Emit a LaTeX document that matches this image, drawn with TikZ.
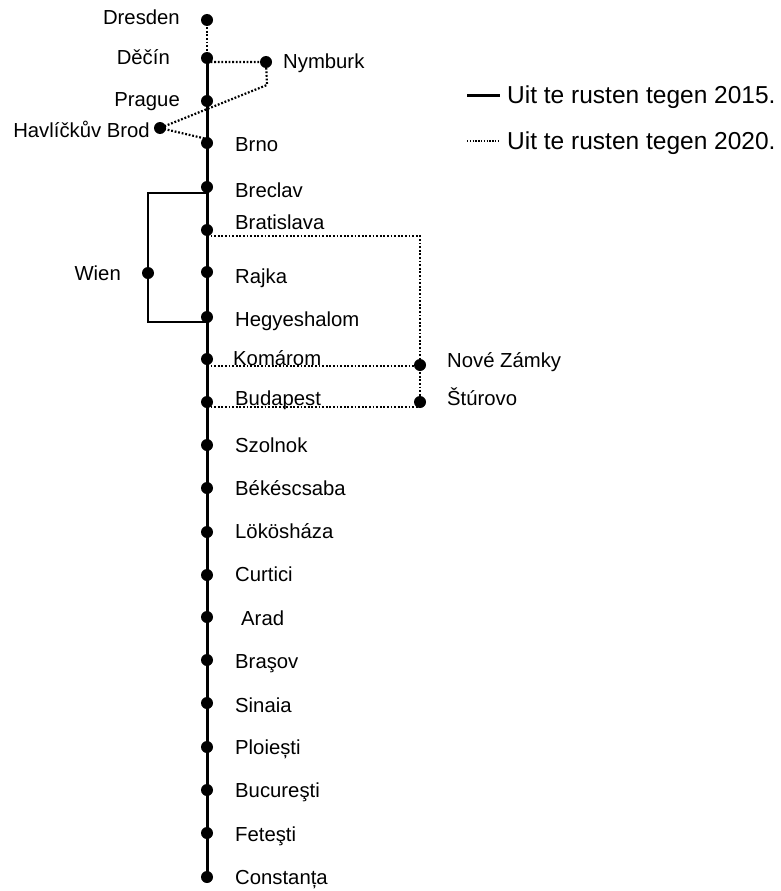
\documentclass[tikz,border=0pt]{standalone}
\usepackage{fontspec}
\setmainfont{Liberation Sans}
\begin{document}
\begin{tikzpicture}[x=1pt,y=-1pt,
  dot/.style={circle,fill=black,inner sep=0pt,minimum size=12pt},
  lbl/.style={inner sep=0pt,font=\fontsize{20.3}{24}\selectfont},
  leg/.style={inner sep=0pt,font=\fontsize{24.5}{28}\selectfont},
  solidline/.style={line width=3pt},
  dotline/.style={line width=2.2pt,dash pattern=on 1.8pt off 1.8pt},
  legdot/.style={line width=1.8pt,dash pattern=on 1.4pt off 1.4pt}]
\useasboundingbox (0,0) rectangle (780,891);
% positions
\coordinate (dre) at (207,20);
\coordinate (dec) at (207,58);
\coordinate (pra) at (207,101);
\coordinate (brn) at (207,143);
\coordinate (brc) at (207,187);
\coordinate (bra) at (207,230);
\coordinate (raj) at (207,272);
\coordinate (heg) at (207,317);
\coordinate (kom) at (207,359);
\coordinate (bud) at (207,402);
\coordinate (szo) at (207,445);
\coordinate (bek) at (207,488);
\coordinate (lok) at (207,532);
\coordinate (cur) at (207,575);
\coordinate (ara) at (207,617);
\coordinate (brs) at (207,660);
\coordinate (sin) at (207,703);
\coordinate (plo) at (207,747);
\coordinate (buc) at (207,790);
\coordinate (fet) at (207,833);
\coordinate (con) at (207,877);
\coordinate (nym) at (266,62);
\coordinate (hav) at (160,128);
\coordinate (wie) at (148,273);
\coordinate (nov) at (420,365);
\coordinate (stu) at (420,402);
% bend points
\coordinate (decr) at (207,62);
\coordinate (nymb) at (267,85);
\coordinate (brnt) at (207,139);
\coordinate (lt0) at (207,193);
\coordinate (lt) at (148,193);
\coordinate (lb) at (148,322);
\coordinate (lb0) at (207,322);
\coordinate (brab) at (207,236);
\coordinate (brar) at (420,236);
\coordinate (komb) at (207,366);
\coordinate (budb) at (207,407);
% lines
\draw[solidline] (dec) -- (con);
\draw[dotline] (dre) -- (dec);
\draw[dotline] (decr) -- (nym) -- (nymb) -- (hav) -- (brnt);
\draw[solidline,line width=2.6pt] (lt0) -- (lt) -- (lb) -- (lb0);
\draw[dotline] (brab) -- (brar) -- (nov) -- (stu);
\draw[dotline] (komb) -- (komb -| nov);
\draw[dotline] (budb) -- (budb -| stu);
% dots
\foreach \p in {dre,dec,pra,brn,brc,bra,raj,heg,kom,bud,szo,bek,lok,cur,ara,brs,sin,plo,buc,fet,con,nym,hav,wie,nov,stu}
  \node[dot] (d\p) at (\p) {};
% labels
\node[lbl,anchor=base east] (tdre) at (180,25) {Dresden};
\node[lbl,anchor=base east] (tdec) at (170,64) {Děčín};
\node[lbl,anchor=base east] (tpra) at (180,106) {Prague};
\node[lbl,anchor=base east] (thav) at (150,137) {Havlíčkův Brod};
\node[lbl,anchor=base west] (tnym) at (283,69) {Nymburk};
\node[lbl,anchor=base west] (tbrn) at (235,151) {Brno};
\node[lbl,anchor=base west] (tbrc) at (235,197) {Breclav};
\node[lbl,anchor=base west] (tbra) at (235,229) {Bratislava};
\node[lbl,anchor=base west] (traj) at (235,283) {Rajka};
\node[lbl,anchor=base west] (theg) at (235,326) {Hegyeshalom};
\node[lbl,anchor=base west] (tkom) at (233,365) {Komárom};
\node[lbl,anchor=base west] (tbud) at (235,405) {Budapest};
\node[lbl,anchor=base east] (twie) at (121,280) {Wien};
\node[lbl,anchor=base west] (tnov) at (447,367) {Nové Zámky};
\node[lbl,anchor=base west] (tstu) at (447,405) {Štúrovo};
\node[lbl,anchor=base west] (tszo) at (235,452) {Szolnok};
\node[lbl,anchor=base west] (tbek) at (235,495) {Békéscsaba};
\node[lbl,anchor=base west] (tlok) at (235,538) {Lökösháza};
\node[lbl,anchor=base west] (tcur) at (235,581) {Curtici};
\node[lbl,anchor=base west] (tara) at (241,625) {Arad};
\node[lbl,anchor=base west] (tbrs) at (235,668) {Braşov};
\node[lbl,anchor=base west] (tsin) at (235,712) {Sinaia};
\node[lbl,anchor=base west] (tplo) at (235,754) {Ploiești};
\node[lbl,anchor=base west] (tbuc) at (235,797) {Bucureşti};
\node[lbl,anchor=base west] (tfet) at (235,841) {Feteşti};
\node[lbl,anchor=base west] (tcon) at (235,884) {Constanța};
% legend
\coordinate (l1a) at (467,95);
\coordinate (l1b) at (500,95);
\coordinate (l2a) at (467,141);
\coordinate (l2b) at (500,141);
\draw[solidline] (l1a) -- (l1b);
\draw[legdot] (l2a) -- (l2b);
\node[leg,anchor=base west] (leg1) at (507,103) {Uit te rusten tegen 2015.};
\node[leg,anchor=base west] (leg2) at (507,149) {Uit te rusten tegen 2020.};
\end{tikzpicture}
\end{document}
